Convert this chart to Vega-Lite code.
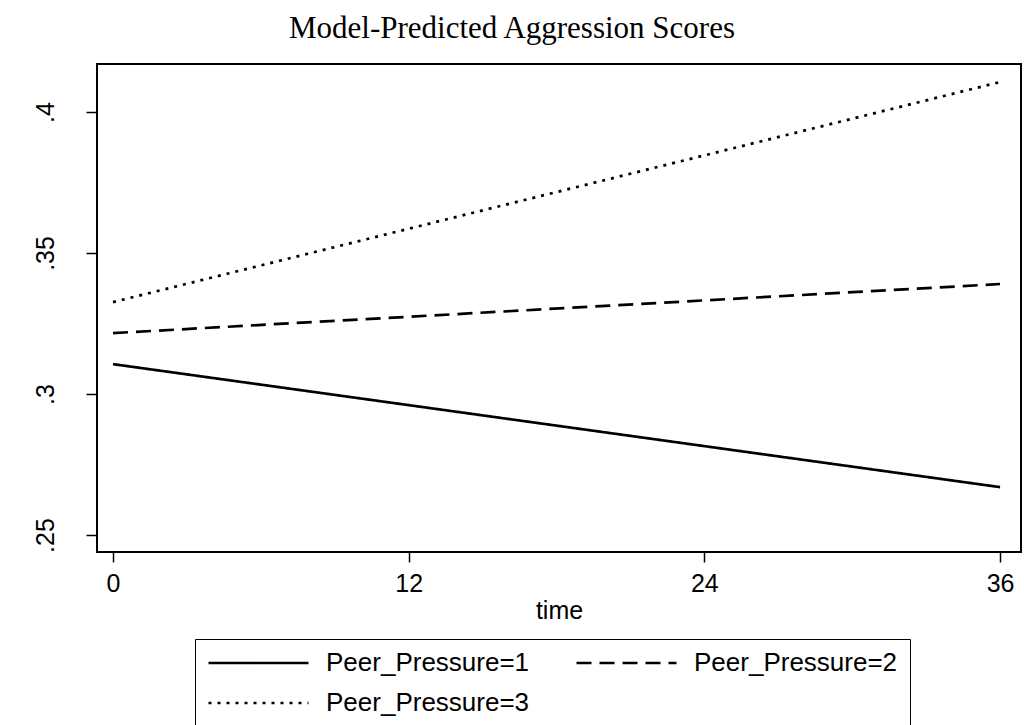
{
  "$schema": "https://vega.github.io/schema/vega-lite/v6.json",
  "autosize": {"type": "none"},
  "width": 924,
  "height": 488,
  "padding": {"left": 97, "top": 64, "right": 3, "bottom": 173},
  "background": "white",
  "title": {
    "text": "Model-Predicted Aggression Scores",
    "font": "Liberation Serif",
    "fontSize": 31,
    "fontWeight": "normal",
    "color": "black",
    "anchor": "middle",
    "frame": "group",
    "dx": -47,
    "baseline": "alphabetic",
    "offset": -5
  },
  "config": {
    "view": {"stroke": "black", "strokeWidth": 2},
    "axis": {"grid": false, "domain": false, "tickColor": "black", "labelColor": "black", "titleColor": "black", "labelFont": "Liberation Sans", "titleFont": "Liberation Sans", "tickWidth": 1.5}
  },
  "data": {
    "values": [
      {"time": 0, "group": "Peer_Pressure=1", "score": 0.3106},
      {"time": 36, "group": "Peer_Pressure=1", "score": 0.267},
      {"time": 0, "group": "Peer_Pressure=2", "score": 0.3216},
      {"time": 36, "group": "Peer_Pressure=2", "score": 0.339},
      {"time": 0, "group": "Peer_Pressure=3", "score": 0.3326},
      {"time": 36, "group": "Peer_Pressure=3", "score": 0.4106}
    ]
  },
  "mark": {"type": "line", "strokeWidth": 2.7, "color": "black"},
  "encoding": {
    "x": {
      "field": "time", "type": "quantitative",
      "scale": {"domain": [-0.65, 36.85], "nice": false, "zero": false},
      "axis": {"values": [0, 12, 24, 36], "tickSize": 10, "labelFontSize": 25, "labelPadding": 9, "title": "time", "titleFontSize": 25, "titleFontWeight": "normal", "titlePadding": 2, "labelFlush": false}
    },
    "y": {
      "field": "score", "type": "quantitative",
      "scale": {"domain": [0.244, 0.417], "nice": false, "zero": false},
      "axis": {"values": [0.25, 0.3, 0.35, 0.4], "labelExpr": "substring(toString(datum.value), 1)", "tickSize": 11, "labelFontSize": 25, "labelAngle": -90, "labelAlign": "center", "labelBaseline": "alphabetic", "labelPadding": 33, "title": null}
    },
    "strokeDash": {
      "field": "group", "type": "nominal",
      "scale": {"domain": ["Peer_Pressure=1", "Peer_Pressure=2", "Peer_Pressure=3"], "range": [[1, 0], [15, 8], [3, 6]]},
      "legend": {
        "title": null,
        "orient": "none",
        "legendX": 98,
        "legendY": 575,
        "direction": "horizontal",
        "columns": 2,
        "strokeColor": "black",
        "fillColor": "white",
        "padding": 12,
        "symbolType": "stroke",
        "symbolSize": 10000,
        "symbolStrokeWidth": 2.5,
        "symbolStrokeColor": "black",
        "clipHeight": 24,
        "labelFont": "Liberation Sans",
        "labelFontSize": 26,
        "labelColor": "black",
        "labelOffset": 16,
        "columnPadding": 45,
        "rowPadding": 14,
        "labelLimit": 400
      }
    }
  }
}
